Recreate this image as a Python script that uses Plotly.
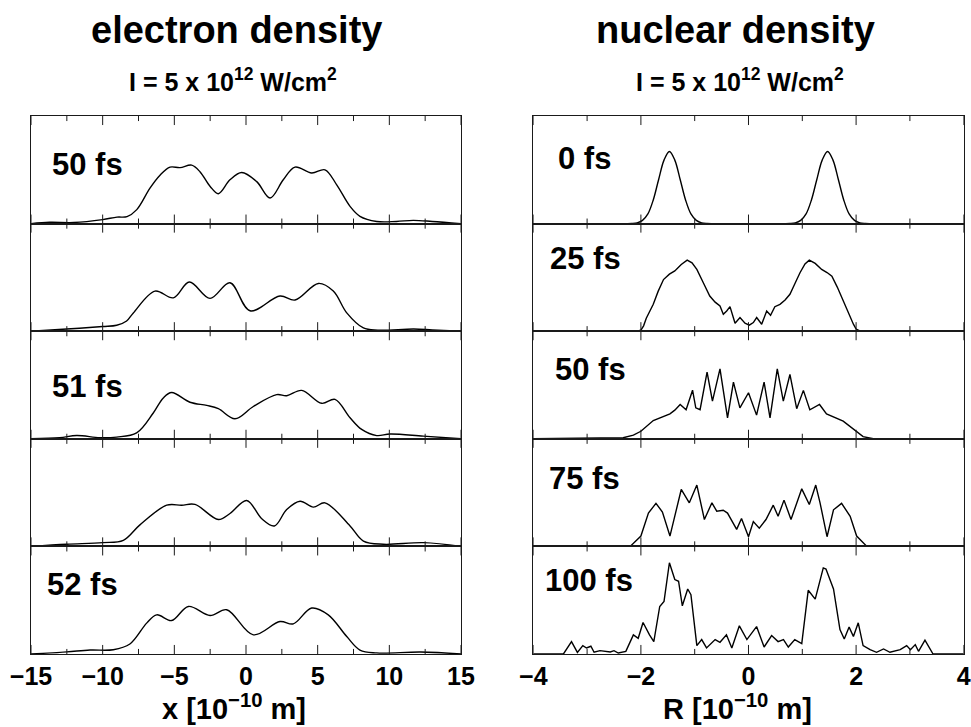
import plotly.graph_objects as go

# ---------------- data (arbitrary density units, panel height = 1) ----------------
# electron density, x in 1e-10 m
e1_label = "50 fs"
e1_x = [-15, -13.7, -12, -10, -9, -8.3, -7.62, -6.7, -6.0, -5.3, -4.6, -3.79, -3.2, -2.5, -1.93,
        -1.12, -0.3, 0.75, 1.68, 2.6, 3.42, 4.58, 5.51, 6.33, 7.26, 7.95, 9.12, 10.5, 11.67, 13, 15]
e1_y = [0, 0.012, 0.01, 0.037, 0.06, 0.065, 0.13, 0.33, 0.45, 0.525, 0.52, 0.543, 0.48, 0.345, 0.278,
        0.407, 0.475, 0.39, 0.238, 0.407, 0.525, 0.47, 0.5, 0.36, 0.16, 0.068, 0.02, 0.02, 0.03, 0.02, 0]

e2_label = ""
e2_x = [-15, -12.5, -10, -9.02, -8.33, -7.86, -6.35, -5.07, -3.95, -2.51, -1.12, 0.28, 2.37, 3.42,
        5.05, 6.09, 7.03, 8.19, 9.2, 11.7, 13, 15]
e2_y = [0, 0.02, 0.043, 0.055, 0.095, 0.17, 0.373, 0.31, 0.457, 0.305, 0.45, 0.19, 0.327, 0.29,
        0.444, 0.373, 0.17, 0.03, 0.01, 0.02, 0.012, 0]

e3_label = "51 fs"
e3_x = [-15, -13, -11.81, -10.2, -9.02, -7.63, -6.47, -5.77, -5.19, -3.91, -2.74, -1.93, -0.77, 0.51,
        2.14, 2.84, 3.88, 5.28, 6.21, 7.26, 8.07, 9.12, 10.05, 12.37, 15]
e3_y = [0, 0.01, 0.03, 0.01, 0.016, 0.055, 0.24, 0.38, 0.43, 0.34, 0.31, 0.28, 0.186, 0.3,
        0.41, 0.40, 0.45, 0.33, 0.366, 0.195, 0.087, 0.03, 0.045, 0.025, 0]

e4_label = ""
e4_x = [-15, -12.5, -10, -8.56, -7.4, -5.53, -4.49, -3.56, -1.93, -1.12, 0.05, 1.1, 1.98, 2.84,
        3.77, 4.70, 5.51, 7.26, 8.19, 9.58, 12.4, 15]
e4_y = [0, 0.02, 0.035, 0.056, 0.2, 0.383, 0.383, 0.39, 0.25, 0.306, 0.427, 0.257, 0.19, 0.343,
        0.42, 0.365, 0.405, 0.19, 0.05, 0.02, 0.035, 0]

e5_label = "52 fs"
e5_x = [-15, -12.5, -10.88, -9.26, -8.1, -6.93, -6.23, -5.19, -4.02, -2.51, -1.35, 0.51, 2.37, 3.3,
        4.58, 5.74, 7.03, 7.95, 9.12, 12.2, 15]
e5_y = [0, 0.02, 0.037, 0.04, 0.093, 0.287, 0.364, 0.311, 0.442, 0.358, 0.411, 0.178, 0.302, 0.28,
        0.427, 0.364, 0.162, 0.037, 0.01, 0.018, 0]

# nuclear density, R in 1e-10 m
n1_label = "0 fs"
n1_x = [-4, -2.3, -2.17, -2.07, -1.97, -1.87, -1.77, -1.67, -1.57, -1.47, -1.37, -1.27, -1.17, -1.07,
        -0.97, -0.87, -0.77, -0.64, 0.64, 0.77, 0.87, 0.97, 1.07, 1.17, 1.27, 1.37, 1.47, 1.57, 1.67,
        1.77, 1.87, 1.97, 2.07, 2.17, 2.3, 4]
n1_y = [0, 0, 0.001, 0.007, 0.03, 0.09, 0.22, 0.41, 0.59, 0.67, 0.59, 0.41, 0.22, 0.09,
        0.03, 0.007, 0.001, 0, 0, 0.001, 0.007, 0.03, 0.09, 0.22, 0.41, 0.59, 0.67, 0.59, 0.41,
        0.22, 0.09, 0.03, 0.007, 0.001, 0, 0]

n2_label = "25 fs"
n2_x = [-4, -2.08, -2.0, -1.95, -1.9, -1.83, -1.77, -1.68, -1.58, -1.47, -1.37, -1.25, -1.14, -1.05,
        -0.96, -0.84, -0.72, -0.62, -0.53, -0.468, -0.405, -0.344, -0.25, -0.158, -0.065, 0.015,
        0.09, 0.152, 0.245, 0.338, 0.41, 0.49, 0.585, 0.68, 0.77, 0.87, 0.957, 1.05, 1.13, 1.24,
        1.36, 1.46, 1.55, 1.65, 1.76, 1.86, 1.95, 2.0, 2.08, 4]
n2_y = [0, 0, 0.01, 0.05, 0.12, 0.19, 0.25, 0.37, 0.48, 0.53, 0.56, 0.62, 0.66, 0.635,
        0.574, 0.45, 0.327, 0.27, 0.234, 0.157, 0.188, 0.228, 0.074, 0.127, 0.074, 0.056,
        0.08, 0.127, 0.065, 0.188, 0.148, 0.228, 0.25, 0.29, 0.343, 0.45, 0.543, 0.625, 0.66, 0.63,
        0.574, 0.545, 0.512, 0.41, 0.28, 0.16, 0.065, 0.02, 0, 0]

n3_label = "50 fs"
n3_x = [-4, -2.33, -2.14, -2.0, -1.77, -1.46, -1.37, -1.27, -1.16, -1.04, -0.98, -0.9, -0.77, -0.67,
        -0.53, -0.39, -0.28, -0.16, 0.0, 0.15, 0.29, 0.40, 0.535, 0.647, 0.77, 0.896, 1.02, 1.14,
        1.32, 1.45, 1.76, 1.95, 2.13, 2.32, 4]
n3_y = [0, 0.01, 0.034, 0.07, 0.17, 0.232, 0.266, 0.319, 0.27, 0.452, 0.288, 0.27, 0.62, 0.35,
        0.65, 0.195, 0.527, 0.288, 0.428, 0.22, 0.527, 0.195, 0.65, 0.35, 0.598, 0.28, 0.45, 0.27,
        0.319, 0.232, 0.164, 0.087, 0.02, 0, 0]

n4_label = "75 fs"
n4_x = [-4, -2.2, -2.0, -1.86, -1.72, -1.6, -1.46, -1.37, -1.25, -1.1, -0.96, -0.82, -0.68, -0.59,
        -0.47, -0.39, -0.22, -0.13, 0.0, 0.09, 0.2, 0.325, 0.46, 0.55, 0.66, 0.79, 0.99, 1.13,
        1.25, 1.33, 1.46, 1.58, 1.73, 1.89, 2.01, 2.2, 4]
n4_y = [0, 0, 0.096, 0.31, 0.4, 0.32, 0.096, 0.28, 0.529, 0.405, 0.57, 0.25, 0.405, 0.327,
        0.336, 0.31, 0.158, 0.26, 0.09, 0.23, 0.17, 0.25, 0.383, 0.28, 0.43, 0.25, 0.535, 0.39,
        0.57, 0.405, 0.09, 0.34, 0.4, 0.28, 0.096, 0, 0]

n5_label = "100 fs"
n5_x = [-4, -3.44, -3.29, -3.18, -3.08, -3.01, -2.93, -2.87, -2.76, -2.57, -2.5, -2.42, -2.28, -2.14,
        -2.05, -1.96, -1.84, -1.76, -1.65, -1.57, -1.47, -1.37, -1.30, -1.23, -1.13, -1.07, -0.96,
        -0.87, -0.78, -0.62, -0.53, -0.41, -0.31, -0.17, -0.03, 0.15, 0.29, 0.43, 0.55, 0.65, 0.74,
        0.86, 0.99, 1.11, 1.24, 1.39, 1.44, 1.51, 1.58, 1.70, 1.78, 1.87, 1.95, 2.04, 2.13, 2.26,
        2.38, 2.51, 2.63, 2.82, 2.94, 3.01, 3.10, 3.16, 3.28, 3.43, 4]
n5_y = [0, 0, 0.115, 0.015, 0.078, 0.056, 0.072, 0.016, 0.031, 0.019, 0.031, 0.009, 0.025, 0.178,
        0.146, 0.293, 0.178, 0.115, 0.442, 0.489, 0.848, 0.692, 0.676, 0.448, 0.604, 0.551, 0.078,
        0.134, 0.056, 0.134, 0.109, 0.178, 0.056, 0.262, 0.134, 0.255, 0.065, 0.171, 0.115, 0.134, 0.065,
        0.134, 0.097, 0.592, 0.51, 0.8, 0.79, 0.692, 0.604, 0.227, 0.14, 0.25, 0.162, 0.29, 0.078, 0.04,
        0.016, 0.047, 0.016, 0.04, 0.078, 0.04, 0.087, 0.025, 0.128, 0, 0]

# tick values
left_major_ticks = [-15, -10, -5, 0, 5, 10, 15]
left_minor_ticks = [-12.5, -7.5, -2.5, 2.5, 7.5, 12.5]
right_major_ticks = [-4, -2, 0, 2, 4]
right_minor_ticks = [-3, -1, 1, 3]

left_title = "electron density"
right_title = "nuclear density"
subtitle = "I = 5 x 10<sup>12</sup> W/cm<sup>2</sup>"
left_xlabel = "x [10<sup>\u221210</sup> m]"
right_xlabel = "R [10<sup>\u221210</sup> m]"

left_panels = [(e1_x, e1_y, e1_label), (e2_x, e2_y, e2_label), (e3_x, e3_y, e3_label),
               (e4_x, e4_y, e4_label), (e5_x, e5_y, e5_label)]
right_panels = [(n1_x, n1_y, n1_label), (n2_x, n2_y, n2_label), (n3_x, n3_y, n3_label),
                (n4_x, n4_y, n4_label), (n5_x, n5_y, n5_label)]

# ---------------- layout geometry ----------------
W, H = 971, 727
FONT = "Liberation Sans, Arial, Helvetica, sans-serif"
INK = "#1a1a1a"
MAJOR_LEN = 0.084   # tick length as a fraction of panel height (~9 px)
MINOR_LEN = 0.047   # (~5 px)


def px(x):
    return x / W


def py(y):
    return 1 - y / H


row_edges = [116, 223.6, 331.2, 438.8, 546.4, 654]
col_dom = [(31, 461), (533.3, 963.7)]
col_range = [(-15, 15), (-4, 4)]
col_ticks = [(left_major_ticks, left_minor_ticks), (right_major_ticks, right_minor_ticks)]
label_pos = [[(50, 164), None, (50, 386), None, (45, 584)],
             [(556, 158), (548, 258), (553, 369), (547, 478), (543, 580)]]
curve_shape = [["spline"] * 5, ["spline", "linear", "linear", "linear", "linear"]]


def tick_segments(majors, minors):
    """Inside tick marks on the bottom and top edges of a panel (y range 0..1)."""
    xs, ys = [], []
    for vals, ln in ((majors, MAJOR_LEN), (minors, MINOR_LEN)):
        for v in vals:
            xs += [v, v, None, v, v, None]
            ys += [0, ln, None, 1, 1 - ln, None]
    return xs, ys


fig = go.Figure()
layout = dict(template="none", width=W, height=H, margin=dict(l=0, r=0, t=0, b=0), autosize=False,
              showlegend=False)
annotations = []

for c, panels in enumerate([left_panels, right_panels]):
    for r, (xs, ys, lab) in enumerate(panels):
        idx = c * 5 + r + 1
        sfx = "" if idx == 1 else str(idx)
        fig.add_trace(go.Scatter(
            x=xs, y=ys, mode="lines", xaxis="x" + sfx, yaxis="y" + sfx,
            line=dict(color="black", width=1.4, shape=curve_shape[c][r])))
        tx, ty = tick_segments(*col_ticks[c])
        fig.add_trace(go.Scatter(
            x=tx, y=ty, mode="lines", xaxis="x" + sfx, yaxis="y" + sfx,
            line=dict(color=INK, width=1), hoverinfo="skip"))
        layout["xaxis" + sfx] = dict(
            domain=[px(col_dom[c][0]), px(col_dom[c][1])], range=list(col_range[c]),
            anchor="y" + sfx, showline=True, linecolor=INK, linewidth=1.3, mirror=True,
            ticks="", tickmode="array", tickvals=col_ticks[c][0],
            showticklabels=(r == 4), ticklabeloverflow="allow",
            tickfont=dict(family=FONT, size=25, color="black", weight="bold"),
            showgrid=False, zeroline=False, automargin=False)
        layout["yaxis" + sfx] = dict(
            domain=[py(row_edges[r + 1]), py(row_edges[r])], range=[0, 1], anchor="x" + sfx,
            showline=True, linecolor=INK, linewidth=1.3, mirror=True, ticks="",
            showticklabels=False, showgrid=False, zeroline=False, automargin=False)
        if lab and label_pos[c][r]:
            lx, ly = label_pos[c][r]
            annotations.append(dict(text="<b>" + lab + "</b>", x=px(lx), y=py(ly), xref="paper",
                                    yref="paper", xanchor="left", yanchor="middle", showarrow=False,
                                    font=dict(family=FONT, size=31, color="black")))

# titles
for cx, t in [(236, left_title), (735, right_title)]:
    annotations.append(dict(text="<b>" + t + "</b>", x=px(cx), y=py(30), xref="paper", yref="paper",
                            xanchor="center", yanchor="middle", showarrow=False,
                            font=dict(family=FONT, size=38, color="black")))
for cx in (233, 740):
    annotations.append(dict(text="<b>" + subtitle + "</b>", x=px(cx), y=py(80), xref="paper",
                            yref="paper", xanchor="center", yanchor="middle", showarrow=False,
                            font=dict(family=FONT, size=25, color="black")))
for cx, t in [(234, left_xlabel), (737, right_xlabel)]:
    annotations.append(dict(text="<b>" + t + "</b>", x=px(cx), y=py(727), xref="paper", yref="paper",
                            xanchor="center", yanchor="bottom", showarrow=False,
                            font=dict(family=FONT, size=29, color="black")))

layout["annotations"] = annotations
fig.update_layout(**layout)
fig.write_html("out.html")
